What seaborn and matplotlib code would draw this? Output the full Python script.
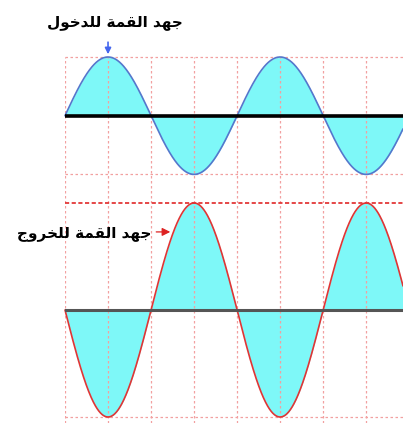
import numpy as np
import pandas as pd
import matplotlib
matplotlib.use("Agg")
import matplotlib.pyplot as plt
import seaborn as sns

# signal settings (1 unit = input peak)
input_peak = 1.0
output_peak = 1.85          # inverted output, larger swing
phase_end = 707             # degrees visible across the width
grid_step = 90              # one grid division = quarter period
phase = np.linspace(0, phase_end, 800)

# labels, pre-shaped arabic in visual order (matplotlib has no bidi)
label_in = "\uFEDD\uFEEE\uFEA7\uFEAA\uFEE0\uFEDF \uFE94\uFEE4\uFED8\uFEDF\uFE8D \uFEAA\uFEEC\uFE9F"   # جهد القمة للدخول
label_out = "\uFE9D\uFEED\uFEAE\uFEA8\uFEE0\uFEDF \uFE94\uFEE4\uFED8\uFEDF\uFE8D \uFEAA\uFEEC\uFE9F"  # جهد القمة للخروج

df = pd.DataFrame({"phase": phase,
                   "vin": input_peak * np.sin(np.radians(phase)),
                   "vout": -output_peak * np.sin(np.radians(phase))})

sns.set_style("white")
plt.rcParams['font.family'] = ['DejaVu Sans']

W, H = 403, 423
fig = plt.figure(figsize=(W / 100, H / 100), dpi=100)
left = 65 / W
ax1 = fig.add_axes([left, (H - 203) / H, 1 - left, (203 - 57) / H])
ax2 = fig.add_axes([left, 0, 1 - left, (H - 203) / H])

cyan = "#7ef8f8"
grid_col = "#f2a0a0"

# top: input signal
ax1.fill_between(df["phase"], 0, df["vin"], color=cyan, lw=0, zorder=1)
sns.lineplot(data=df, x="phase", y="vin", ax=ax1, color="#5577cc", lw=1.2,
             zorder=4, clip_on=False)
ax1.axhline(0, color="black", lw=2.6, zorder=5)
for yv in [input_peak, -input_peak]:
    ax1.axhline(yv, color=grid_col, lw=0.9, ls=(0, (2, 2)), zorder=2, clip_on=False)
ax1.set_ylim(-(203 - 116) / 58.5, input_peak)

# bottom: output signal
ax2.fill_between(df["phase"], 0, df["vout"], color=cyan, lw=0, zorder=1)
sns.lineplot(data=df, x="phase", y="vout", ax=ax2, color="#e03535", lw=1.2,
             zorder=4, clip_on=False)
ax2.axhline(0, color="#555555", lw=2.2, zorder=5)
ax2.axhline(output_peak, color="#e02828", lw=1.2, ls=(0, (2.5, 1.5)), zorder=3, clip_on=False)
ax2.axhline(-output_peak, color=grid_col, lw=0.9, ls=(0, (2, 2)), zorder=2)
ax2.set_ylim(-output_peak * 113 / 107, output_peak)

for ax in (ax1, ax2):
    ax.set_xlim(0, phase_end)
    for xv in np.arange(0, phase_end, grid_step):
        ax.axvline(xv, color=grid_col, lw=0.9, ls=(0, (2, 2)), zorder=2)
    ax.set_xlabel("")
    ax.set_ylabel("")
    ax.set_xticks([])
    ax.set_yticks([])
    sns.despine(ax=ax, left=True, bottom=True)
    ax.patch.set_alpha(0)

# annotations
fig.text(115 / W, 1 - 22 / H, label_in, ha="center", va="center",
         fontsize=11, fontweight="bold", color="black")
ax1.annotate("", xy=(90, input_peak), xytext=(90, input_peak + 0.3),
             arrowprops=dict(arrowstyle="-|>", color="#4466ee", lw=1.2,
                             mutation_scale=9), annotation_clip=False)

fig.text(84 / W, 1 - 233 / H, label_out, ha="center", va="center",
         fontsize=11, fontweight="bold", color="black")
ax2.annotate("", xy=(226, 1.35), xytext=(185, 1.35),
             arrowprops=dict(arrowstyle="-|>", color="#dd2222", lw=0.9,
                             mutation_scale=12), annotation_clip=False)

fig.savefig("out.png", dpi=100)
